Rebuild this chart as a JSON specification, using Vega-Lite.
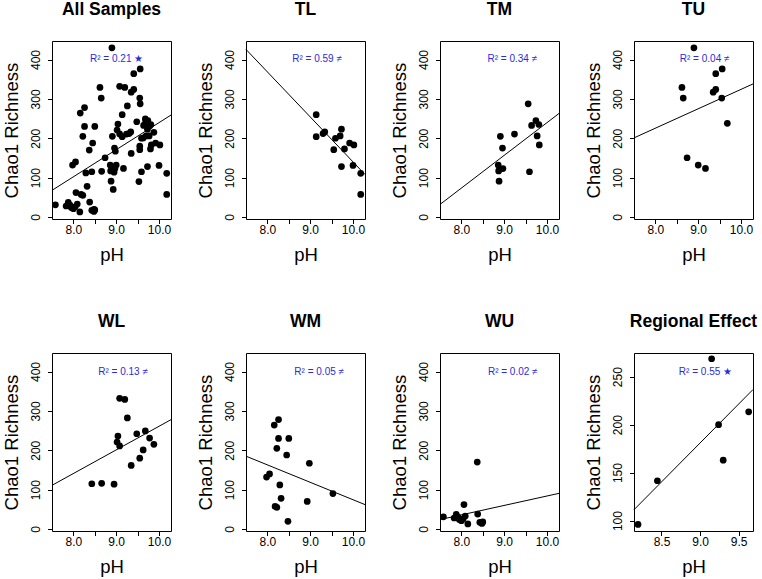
{
"$schema": "https://vega.github.io/schema/vega-lite/v6.json",
"background": "white",
"padding": {"left": 2, "top": 0, "right": 0, "bottom": 0},
"datasets": {
"pts": [
{"g":"TL","pH":9.14,"c":260},{"g":"TL","pH":9.14,"c":204},{"g":"TL","pH":9.30,"c":212},{"g":"TL","pH":9.34,"c":216},{"g":"TL","pH":9.55,"c":171},{"g":"TL","pH":9.59,"c":200},{"g":"TL","pH":9.70,"c":206},{"g":"TL","pH":9.73,"c":223},{"g":"TL","pH":9.80,"c":173},{"g":"TL","pH":9.92,"c":188},{"g":"TL","pH":10.02,"c":183},{"g":"TL","pH":9.73,"c":128},{"g":"TL","pH":10.0,"c":131},{"g":"TL","pH":10.18,"c":111},{"g":"TL","pH":10.18,"c":57.5},
{"g":"TM","pH":9.56,"c":287.5},{"g":"TM","pH":8.91,"c":205},{"g":"TM","pH":9.24,"c":210.6},{"g":"TM","pH":8.96,"c":175},{"g":"TM","pH":8.86,"c":132},{"g":"TM","pH":8.87,"c":117},{"g":"TM","pH":8.97,"c":123},{"g":"TM","pH":8.88,"c":91},{"g":"TM","pH":9.64,"c":232.5},{"g":"TM","pH":9.74,"c":245},{"g":"TM","pH":9.81,"c":235},{"g":"TM","pH":9.77,"c":206},{"g":"TM","pH":9.82,"c":183},{"g":"TM","pH":9.59,"c":115},
{"g":"TU","pH":8.9,"c":429.6},{"g":"TU","pH":8.62,"c":329},{"g":"TU","pH":8.65,"c":302},{"g":"TU","pH":9.41,"c":364},{"g":"TU","pH":9.56,"c":376},{"g":"TU","pH":9.35,"c":317},{"g":"TU","pH":9.41,"c":324},{"g":"TU","pH":9.55,"c":302},{"g":"TU","pH":9.68,"c":238},{"g":"TU","pH":8.74,"c":150.5},{"g":"TU","pH":9.0,"c":132},{"g":"TU","pH":9.17,"c":123.5},
{"g":"WL","pH":9.08,"c":332},{"g":"WL","pH":9.2,"c":329},{"g":"WL","pH":9.26,"c":282},{"g":"WL","pH":9.04,"c":236},{"g":"WL","pH":9.02,"c":221},{"g":"WL","pH":9.08,"c":211},{"g":"WL","pH":9.48,"c":242},{"g":"WL","pH":9.68,"c":249},{"g":"WL","pH":9.78,"c":231},{"g":"WL","pH":9.88,"c":215},{"g":"WL","pH":9.63,"c":201},{"g":"WL","pH":9.55,"c":180},{"g":"WL","pH":9.35,"c":161.5},{"g":"WL","pH":8.43,"c":115},{"g":"WL","pH":8.66,"c":116},{"g":"WL","pH":8.95,"c":114},
{"g":"WM","pH":8.26,"c":278},{"g":"WM","pH":8.16,"c":264},{"g":"WM","pH":8.26,"c":230},{"g":"WM","pH":8.5,"c":230},{"g":"WM","pH":8.22,"c":205},{"g":"WM","pH":8.45,"c":188},{"g":"WM","pH":8.98,"c":167},{"g":"WM","pH":8.05,"c":140},{"g":"WM","pH":7.98,"c":132},{"g":"WM","pH":8.29,"c":112},{"g":"WM","pH":8.32,"c":78},{"g":"WM","pH":8.18,"c":57.5},{"g":"WM","pH":8.22,"c":55},{"g":"WM","pH":8.93,"c":70},{"g":"WM","pH":9.53,"c":90},{"g":"WM","pH":8.48,"c":19.5},
{"g":"WU","pH":7.58,"c":31},{"g":"WU","pH":7.83,"c":28},{"g":"WU","pH":7.88,"c":37},{"g":"WU","pH":7.92,"c":30},{"g":"WU","pH":7.95,"c":24},{"g":"WU","pH":8.0,"c":21},{"g":"WU","pH":8.04,"c":26},{"g":"WU","pH":8.06,"c":62},{"g":"WU","pH":8.09,"c":33},{"g":"WU","pH":8.15,"c":13},{"g":"WU","pH":8.37,"c":170},{"g":"WU","pH":8.38,"c":38},{"g":"WU","pH":8.43,"c":17},{"g":"WU","pH":8.48,"c":14},{"g":"WU","pH":8.5,"c":18},
{"g":"Regional","pH":8.196,"c":96},{"g":"Regional","pH":8.447,"c":141.5},{"g":"Regional","pH":9.15,"c":268.7},{"g":"Regional","pH":9.24,"c":200},{"g":"Regional","pH":9.30,"c":163},{"g":"Regional","pH":9.63,"c":213.4}
],
"fits": [
{"p":"All","pH":7.5,"c":67.8},{"p":"All","pH":10.28,"c":259},
{"p":"TL","pH":7.5,"c":425.6},{"p":"TL","pH":10.28,"c":108},
{"p":"TM","pH":7.5,"c":32},{"p":"TM","pH":10.28,"c":263},
{"p":"TU","pH":7.5,"c":201},{"p":"TU","pH":10.28,"c":338},
{"p":"WL","pH":7.5,"c":111},{"p":"WL","pH":10.28,"c":277.7},
{"p":"WM","pH":7.5,"c":185},{"p":"WM","pH":10.28,"c":62},
{"p":"WU","pH":7.5,"c":24},{"p":"WU","pH":10.28,"c":90.6},
{"p":"Regional","pH":8.144,"c":111.3},{"p":"Regional","pH":9.686,"c":236.6}
],
"labels": [
{"p":"All","pH":9.01,"c":402,"t":"R² = 0.21 ★"},
{"p":"TL","pH":9.16,"c":402,"t":"R² = 0.59 ≠"},
{"p":"TM","pH":9.19,"c":402,"t":"R² = 0.34 ≠"},
{"p":"TU","pH":9.15,"c":402,"t":"R² = 0.04 ≠"},
{"p":"WL","pH":9.16,"c":400,"t":"R² = 0.13 ≠"},
{"p":"WM","pH":9.21,"c":400,"t":"R² = 0.05 ≠"},
{"p":"WU","pH":9.2,"c":400,"t":"R² = 0.02 ≠"},
{"p":"Regional","pH":9.07,"c":254.5,"t":"R² = 0.55 ★"}
]
},
"config": {
"font": "Liberation Sans",
"view": {"stroke": "black", "strokeWidth": 1},
"axis": {"domain": false, "grid": false, "tickColor": "black", "tickSize": 4.5, "labelColor": "black", "labelFontSize": 12, "labelFont": "Liberation Sans", "titleFont": "Liberation Sans", "titleFontSize": 18.5, "titleFontWeight": "normal", "titleColor": "black", "labelFlush": false, "labelOverlap": false},
"axisY": {"labelAngle": -90, "labelAlign": "center", "labelBaseline": "bottom", "labelPadding": 5, "titlePadding": 8},
"axisX": {"labelPadding": 1, "titlePadding": 10},
"title": {"fontSize": 17.5, "fontWeight": "bold", "font": "Liberation Sans", "color": "black", "offset": 23, "baseline": "alphabetic", "frame": "group"},
"circle": {"size": 45, "opacity": 1, "color": "black"},
"line": {"color": "black", "strokeWidth": 1, "clip": true},
"text": {"color": "#2B2BD9", "fontSize": 10, "font": "Liberation Sans"}
},
"columns": 4,
"spacing": {"row": 134, "column": 75},
"bounds": "flush",
"resolve": {"scale": {"x": "independent", "y": "independent"}},
"concat": [
{"width": 119, "height": 178, "title": "All Samples",
 "encoding": {"x": {"field": "pH", "type": "quantitative", "scale": {"domain": [7.5, 10.28], "nice": false, "zero": false}, "axis": {"values": [8, 8.5, 9, 9.5, 10], "labelExpr": "datum.value % 1 == 0 ? format(datum.value, '.1f') : ''", "title": "pH"}},
  "y": {"field": "c", "type": "quantitative", "scale": {"domain": [-5, 447], "nice": false, "zero": false}, "axis": {"values": [0, 100, 200, 300, 400], "title": "Chao1 Richness"}}},
 "layer": [
  {"data": {"name": "pts"}, "transform": [{"filter": "datum.g != 'Regional'"}], "mark": "circle"},
  {"data": {"name": "fits"}, "transform": [{"filter": "datum.p == 'All'"}], "mark": "line"},
  {"data": {"name": "labels"}, "transform": [{"filter": "datum.p == 'All'"}], "mark": "text", "encoding": {"text": {"field": "t"}}}
 ]},
{"width": 119, "height": 178, "title": "TL",
 "encoding": {"x": {"field": "pH", "type": "quantitative", "scale": {"domain": [7.5, 10.28], "nice": false, "zero": false}, "axis": {"values": [8, 8.5, 9, 9.5, 10], "labelExpr": "datum.value % 1 == 0 ? format(datum.value, '.1f') : ''", "title": "pH"}},
  "y": {"field": "c", "type": "quantitative", "scale": {"domain": [-5, 447], "nice": false, "zero": false}, "axis": {"values": [0, 100, 200, 300, 400], "title": "Chao1 Richness"}}},
 "layer": [
  {"data": {"name": "pts"}, "transform": [{"filter": "datum.g == 'TL'"}], "mark": "circle"},
  {"data": {"name": "fits"}, "transform": [{"filter": "datum.p == 'TL'"}], "mark": "line"},
  {"data": {"name": "labels"}, "transform": [{"filter": "datum.p == 'TL'"}], "mark": "text", "encoding": {"text": {"field": "t"}}}
 ]},
{"width": 119, "height": 178, "title": "TM",
 "encoding": {"x": {"field": "pH", "type": "quantitative", "scale": {"domain": [7.5, 10.28], "nice": false, "zero": false}, "axis": {"values": [8, 8.5, 9, 9.5, 10], "labelExpr": "datum.value % 1 == 0 ? format(datum.value, '.1f') : ''", "title": "pH"}},
  "y": {"field": "c", "type": "quantitative", "scale": {"domain": [-5, 447], "nice": false, "zero": false}, "axis": {"values": [0, 100, 200, 300, 400], "title": "Chao1 Richness"}}},
 "layer": [
  {"data": {"name": "pts"}, "transform": [{"filter": "datum.g == 'TM'"}], "mark": "circle"},
  {"data": {"name": "fits"}, "transform": [{"filter": "datum.p == 'TM'"}], "mark": "line"},
  {"data": {"name": "labels"}, "transform": [{"filter": "datum.p == 'TM'"}], "mark": "text", "encoding": {"text": {"field": "t"}}}
 ]},
{"width": 119, "height": 178, "title": "TU",
 "encoding": {"x": {"field": "pH", "type": "quantitative", "scale": {"domain": [7.5, 10.28], "nice": false, "zero": false}, "axis": {"values": [8, 8.5, 9, 9.5, 10], "labelExpr": "datum.value % 1 == 0 ? format(datum.value, '.1f') : ''", "title": "pH"}},
  "y": {"field": "c", "type": "quantitative", "scale": {"domain": [-5, 447], "nice": false, "zero": false}, "axis": {"values": [0, 100, 200, 300, 400], "title": "Chao1 Richness"}}},
 "layer": [
  {"data": {"name": "pts"}, "transform": [{"filter": "datum.g == 'TU'"}], "mark": "circle"},
  {"data": {"name": "fits"}, "transform": [{"filter": "datum.p == 'TU'"}], "mark": "line"},
  {"data": {"name": "labels"}, "transform": [{"filter": "datum.p == 'TU'"}], "mark": "text", "encoding": {"text": {"field": "t"}}}
 ]},
{"width": 119, "height": 178, "title": "WL",
 "encoding": {"x": {"field": "pH", "type": "quantitative", "scale": {"domain": [7.5, 10.28], "nice": false, "zero": false}, "axis": {"values": [8, 8.5, 9, 9.5, 10], "labelExpr": "datum.value % 1 == 0 ? format(datum.value, '.1f') : ''", "title": "pH"}},
  "y": {"field": "c", "type": "quantitative", "scale": {"domain": [-5, 447], "nice": false, "zero": false}, "axis": {"values": [0, 100, 200, 300, 400], "title": "Chao1 Richness"}}},
 "layer": [
  {"data": {"name": "pts"}, "transform": [{"filter": "datum.g == 'WL'"}], "mark": "circle"},
  {"data": {"name": "fits"}, "transform": [{"filter": "datum.p == 'WL'"}], "mark": "line"},
  {"data": {"name": "labels"}, "transform": [{"filter": "datum.p == 'WL'"}], "mark": "text", "encoding": {"text": {"field": "t"}}}
 ]},
{"width": 119, "height": 178, "title": "WM",
 "encoding": {"x": {"field": "pH", "type": "quantitative", "scale": {"domain": [7.5, 10.28], "nice": false, "zero": false}, "axis": {"values": [8, 8.5, 9, 9.5, 10], "labelExpr": "datum.value % 1 == 0 ? format(datum.value, '.1f') : ''", "title": "pH"}},
  "y": {"field": "c", "type": "quantitative", "scale": {"domain": [-5, 447], "nice": false, "zero": false}, "axis": {"values": [0, 100, 200, 300, 400], "title": "Chao1 Richness"}}},
 "layer": [
  {"data": {"name": "pts"}, "transform": [{"filter": "datum.g == 'WM'"}], "mark": "circle"},
  {"data": {"name": "fits"}, "transform": [{"filter": "datum.p == 'WM'"}], "mark": "line"},
  {"data": {"name": "labels"}, "transform": [{"filter": "datum.p == 'WM'"}], "mark": "text", "encoding": {"text": {"field": "t"}}}
 ]},
{"width": 119, "height": 178, "title": "WU",
 "encoding": {"x": {"field": "pH", "type": "quantitative", "scale": {"domain": [7.5, 10.28], "nice": false, "zero": false}, "axis": {"values": [8, 8.5, 9, 9.5, 10], "labelExpr": "datum.value % 1 == 0 ? format(datum.value, '.1f') : ''", "title": "pH"}},
  "y": {"field": "c", "type": "quantitative", "scale": {"domain": [-5, 447], "nice": false, "zero": false}, "axis": {"values": [0, 100, 200, 300, 400], "title": "Chao1 Richness"}}},
 "layer": [
  {"data": {"name": "pts"}, "transform": [{"filter": "datum.g == 'WU'"}], "mark": "circle"},
  {"data": {"name": "fits"}, "transform": [{"filter": "datum.p == 'WU'"}], "mark": "line"},
  {"data": {"name": "labels"}, "transform": [{"filter": "datum.p == 'WU'"}], "mark": "text", "encoding": {"text": {"field": "t"}}}
 ]},
{"width": 119, "height": 178, "title": "Regional Effect",
 "encoding": {"x": {"field": "pH", "type": "quantitative", "scale": {"domain": [8.144, 9.686], "nice": false, "zero": false}, "axis": {"values": [8.5, 9, 9.5], "format": ".1f", "title": "pH"}},
  "y": {"field": "c", "type": "quantitative", "scale": {"domain": [89.1, 274.7], "nice": false, "zero": false}, "axis": {"values": [100, 150, 200, 250], "title": "Chao1 Richness"}}},
 "layer": [
  {"data": {"name": "pts"}, "transform": [{"filter": "datum.g == 'Regional'"}], "mark": "circle"},
  {"data": {"name": "fits"}, "transform": [{"filter": "datum.p == 'Regional'"}], "mark": "line"},
  {"data": {"name": "labels"}, "transform": [{"filter": "datum.p == 'Regional'"}], "mark": "text", "encoding": {"text": {"field": "t"}}}
 ]}
]
}
